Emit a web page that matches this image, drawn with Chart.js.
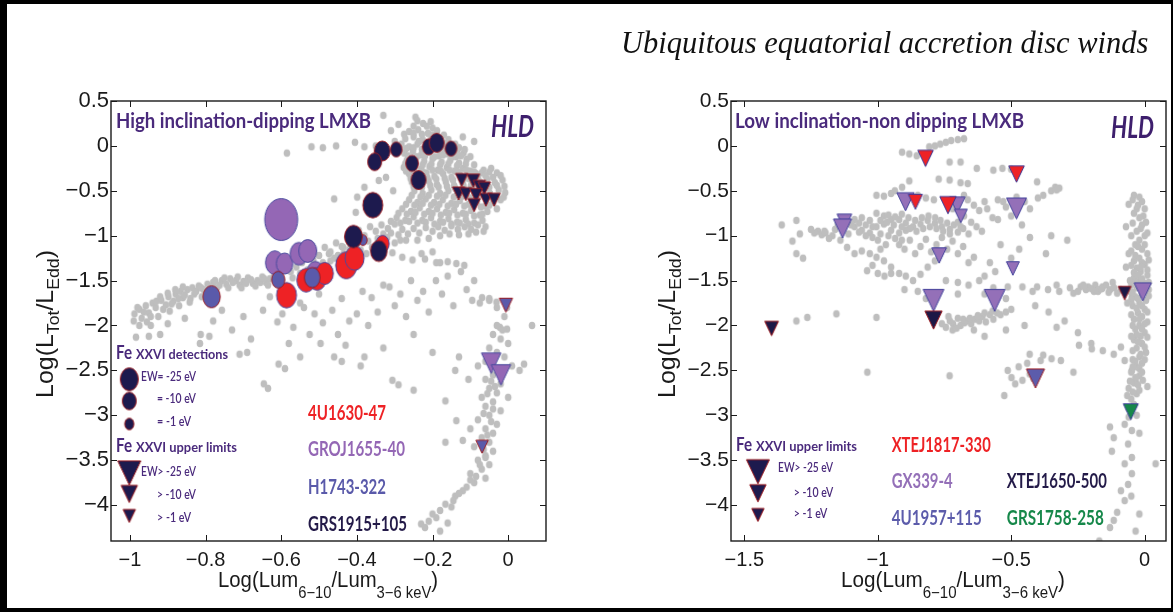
<!DOCTYPE html>
<html><head><meta charset="utf-8">
<script src="https://cdn.jsdelivr.net/npm/chart.js@4.4.0/dist/chart.umd.min.js"></script>
<style>
html,body{margin:0;padding:0;background:#fff;width:1173px;height:612px;overflow:hidden;position:relative}
canvas{position:absolute;top:0}
#c1{left:0}
#c2{left:600px}
.band{position:absolute;background:#000}
#title{position:absolute;left:621px;top:26px;font-family:'Liberation Serif','DejaVu Serif',serif;font-style:italic;font-size:32px;line-height:32px;white-space:nowrap;transform-origin:0 0;color:#111}
</style></head><body>
<canvas id="c1" width="600" height="612"></canvas>
<canvas id="c2" width="573" height="612"></canvas>
<div id="title">Ubiquitous equatorial accretion disc winds</div>
<div class="band" style="left:0;top:0;width:1173px;height:4px"></div>
<div class="band" style="left:0;top:0;width:7px;height:612px"></div>
<div class="band" style="left:0;top:608px;width:1173px;height:4px"></div>
<div class="band" style="left:1171px;top:0;width:2px;height:612px"></div>
<script>
// ---------------- DATA ----------------
const leftXTicks = {min:-1.05, max:0.1, step:0.2};
const rightXTicks = {min:-1.55, max:0.08, step:0.5};
const yTicks = {min:-4.4, max:0.5, step:0.5};

// Left panel: high inclination dipping LMXB. Triples are [x, y, |EW| (eV)]
const gro1655Det = [[-0.6,-0.82,140],[-0.617,-1.30,28],[-0.591,-1.31,19],[-0.553,-1.20,24],[-0.53,-1.17,25],[-0.51,-1.40,17]];
const u1630Det = [[-0.586,-1.663,35],[-0.505,-1.48,25],[-0.534,-1.496,28],[-0.485,-1.42,22],[-0.428,-1.33,42],[-0.406,-1.25,30],[-0.332,-1.09,8]];
const h1743Det = [[-0.784,-1.68,22],[-0.608,-1.49,8],[-0.518,-1.466,16],[-0.384,-1.05,0.4]];
const grs1915Det = [[-0.333,-0.057,16],[-0.296,-0.04,4.5],[-0.353,-0.177,10],[-0.254,-0.195,6.7],[-0.237,-0.38,13],[-0.21,-0.01,6.7],[-0.189,0.035,13],[-0.151,-0.03,4.5],[-0.358,-0.66,35],[-0.409,-1.01,24],[-0.342,-1.17,19]];
const gro1655Lim = [[-0.045,-2.42,17],[-0.019,-2.55,17]];
const h1743Lim = [[-0.006,-1.774,3],[-0.069,-3.35,1]];
const grs1915Lim = [[-0.123,-0.38,1],[-0.092,-0.389,2],[-0.076,-0.455,1],[-0.063,-0.474,1],[-0.131,-0.53,1],[-0.112,-0.537,1],[-0.085,-0.55,2],[-0.09,-0.66,1],[-0.059,-0.6,1],[-0.037,-0.6,1]];

const leftGray = [
[-0.33,0.34],[-0.245,0.32],[-0.31,0.17],[-0.275,0.13],[-0.52,-0.01],[-0.49,-0.02],[-0.455,0.0],[-0.405,0.04],[-0.38,-0.01],[-0.585,-0.08],[-0.29,0.24],[-0.205,0.27],[-0.12,0.1],[-0.09,0.05],[-0.35,0.0],[-0.3,0.05],
[-0.46,-0.59],[-0.399,-0.57],[-0.38,-0.46],[-0.323,-0.35],[-0.403,-0.74],[-0.342,-0.385],[-0.304,-0.5],[-0.474,-1.2],[-0.436,-1.13],
[-0.229,-1.2],[-0.2,-1.18],[-0.18,-1.3],[-0.069,-1.69],[-0.05,-1.72],[-0.031,-1.74],[-0.003,-1.8],[-0.022,-2.02],[-0.003,-2.04],
[-0.25,0.22],[-0.225,0.25],[-0.2,0.2],[-0.262,0.16],[-0.238,0.18],[-0.212,0.14],[-0.188,0.17],[-0.17,0.12],
[-0.272,0.08],[-0.25,0.1],[-0.226,0.07],[-0.203,0.09],[-0.18,0.05],[-0.158,0.07],[-0.14,0.02],
[-0.282,0.02],[-0.262,-0.01],[-0.24,0.02],[-0.216,-0.02],[-0.193,0.0],[-0.168,-0.03],[-0.15,-0.06],[-0.13,-0.02],
[-0.275,-0.08],[-0.252,-0.06],[-0.23,-0.1],[-0.207,-0.07],[-0.183,-0.11],[-0.16,-0.09],[-0.138,-0.12],[-0.118,-0.08],
[-0.268,-0.16],[-0.245,-0.14],[-0.222,-0.17],[-0.2,-0.14],[-0.176,-0.18],[-0.153,-0.16],[-0.13,-0.19],[-0.11,-0.15],
[-0.276,-0.24],[-0.254,-0.22],[-0.23,-0.26],[-0.208,-0.23],[-0.186,-0.27],[-0.162,-0.24],[-0.142,-0.28],[-0.12,-0.25],[-0.1,-0.28],
[-0.262,-0.31],[-0.24,-0.34],[-0.216,-0.3],[-0.195,-0.34],[-0.172,-0.31],[-0.15,-0.35],[-0.128,-0.32],[-0.106,-0.36],[-0.085,-0.31],[-0.065,-0.27],[-0.045,-0.25],[-0.03,-0.3],
[-0.255,-0.4],[-0.232,-0.43],[-0.21,-0.39],[-0.188,-0.43],[-0.165,-0.4],[-0.143,-0.44],[-0.12,-0.41],[-0.098,-0.44],[-0.075,-0.4],[-0.055,-0.37],[-0.035,-0.41],[-0.015,-0.38],
[-0.248,-0.5],[-0.226,-0.53],[-0.203,-0.49],[-0.18,-0.53],[-0.158,-0.5],[-0.135,-0.54],[-0.113,-0.51],[-0.09,-0.55],[-0.068,-0.5],[-0.048,-0.53],[-0.025,-0.49],[-0.008,-0.52],
[-0.262,-0.6],[-0.24,-0.63],[-0.218,-0.59],[-0.196,-0.63],[-0.173,-0.6],[-0.15,-0.64],[-0.128,-0.61],[-0.105,-0.65],[-0.083,-0.62],[-0.06,-0.67],[-0.04,-0.63],[-0.02,-0.6],
[-0.28,-0.7],[-0.257,-0.73],[-0.234,-0.69],[-0.21,-0.73],[-0.188,-0.7],[-0.165,-0.74],[-0.143,-0.71],[-0.12,-0.75],[-0.098,-0.72],[-0.075,-0.77],[-0.055,-0.73],
[-0.295,-0.8],[-0.272,-0.83],[-0.25,-0.79],[-0.227,-0.83],[-0.204,-0.8],[-0.18,-0.84],[-0.158,-0.81],[-0.135,-0.85],[-0.112,-0.82],[-0.09,-0.86],[-0.068,-0.83],
[-0.24,0.28],[-0.215,0.22],[-0.25,0.14],[-0.2,0.12],[-0.228,0.13],[-0.236,0.05],[-0.19,0.07],[-0.163,0.03],
[-0.27,-0.03],[-0.25,-0.02],[-0.228,-0.04],[-0.205,-0.03],[-0.18,-0.05],[-0.158,-0.02],[-0.135,-0.05],[-0.115,-0.04],
[-0.265,-0.11],[-0.242,-0.12],[-0.22,-0.11],[-0.195,-0.12],[-0.172,-0.1],[-0.148,-0.12],[-0.125,-0.11],[-0.1,-0.12],
[-0.272,-0.2],[-0.25,-0.19],[-0.226,-0.21],[-0.203,-0.2],[-0.18,-0.21],[-0.158,-0.2],[-0.135,-0.22],[-0.112,-0.2],[-0.09,-0.21],
[-0.27,-0.28],[-0.248,-0.27],[-0.226,-0.29],[-0.2,-0.27],[-0.178,-0.28],[-0.155,-0.27],[-0.132,-0.29],[-0.11,-0.27],[-0.09,-0.29],[-0.07,-0.3],[-0.05,-0.29],
[-0.258,-0.36],[-0.236,-0.37],[-0.214,-0.35],[-0.19,-0.37],[-0.168,-0.36],[-0.146,-0.38],[-0.124,-0.36],[-0.1,-0.37],[-0.08,-0.35],[-0.06,-0.33],[-0.04,-0.35],[-0.02,-0.33],
[-0.25,-0.45],[-0.228,-0.46],[-0.206,-0.44],[-0.184,-0.46],[-0.162,-0.45],[-0.14,-0.47],[-0.118,-0.45],[-0.095,-0.47],[-0.072,-0.45],[-0.05,-0.46],[-0.03,-0.44],[-0.01,-0.45],
[-0.255,-0.55],[-0.232,-0.57],[-0.21,-0.55],[-0.188,-0.56],[-0.166,-0.55],[-0.144,-0.57],[-0.122,-0.56],[-0.1,-0.58],[-0.078,-0.56],[-0.055,-0.58],[-0.033,-0.56],[-0.012,-0.57],
[-0.27,-0.65],[-0.248,-0.66],[-0.226,-0.64],[-0.204,-0.66],[-0.182,-0.65],[-0.16,-0.67],[-0.138,-0.65],[-0.116,-0.67],[-0.094,-0.66],[-0.072,-0.68],[-0.05,-0.66],[-0.03,-0.7],
[-0.29,-0.75],[-0.268,-0.76],[-0.245,-0.74],[-0.222,-0.76],[-0.2,-0.75],[-0.178,-0.77],[-0.156,-0.75],[-0.134,-0.77],[-0.112,-0.76],[-0.09,-0.78],[-0.068,-0.76],
[-0.31,-0.84],[-0.285,-0.86],[-0.262,-0.84],[-0.24,-0.86],[-0.218,-0.85],[-0.195,-0.87],[-0.172,-0.85],[-0.15,-0.87],[-0.128,-0.86],[-0.105,-0.87],
[-0.3,-0.87],[-0.318,-0.92],[-0.335,-0.88],[-0.35,-0.95],[-0.365,-0.9],[-0.38,-1.0],[-0.395,-0.94],[-0.41,-1.08],[-0.425,-1.02],[-0.44,-1.12],[-0.455,-1.08],[-0.47,-1.18],[-0.485,-1.13],[-0.5,-1.22],[-0.515,-1.27],[-0.53,-1.23],[-0.545,-1.3],[-0.56,-1.35],[-0.575,-1.4],[-0.59,-1.38],[-0.605,-1.43],[-0.62,-1.46],
[-0.31,-0.97],[-0.33,-0.98],[-0.345,-1.03],[-0.37,-1.06],[-0.4,-1.1],[-0.42,-1.15],[-0.435,-1.2],[-0.46,-1.25],[-0.49,-1.3],[-0.51,-1.35],[-0.53,-1.38],[-0.55,-1.42],[-0.57,-1.47],[-0.6,-1.5],
[-0.28,-0.93],[-0.265,-0.98],[-0.25,-0.92],[-0.235,-0.97],[-0.218,-0.91],[-0.2,-0.95],[-0.185,-0.9],[-0.168,-0.94],[-0.15,-0.89],[-0.133,-0.93],[-0.115,-0.9],[-0.098,-0.93],[-0.08,-0.88],[-0.06,-0.9],
[-0.29,-0.99],[-0.27,-1.05],[-0.24,-1.05],[-0.21,-1.03],[-0.18,-1.0],[-0.155,-0.98],[-0.13,-0.99],[-0.105,-0.98],[-0.085,-0.96],[-0.065,-0.95],
[-0.32,-1.02],[-0.3,-1.08],[-0.285,-1.05],[-0.36,-1.13],[-0.375,-1.2],[-0.39,-1.16],[-0.45,-1.22],[-0.47,-1.28],
[-0.306,-1.19],[-0.28,-1.24],[-0.253,-1.27],[-0.22,-1.26],[-0.19,-1.3],[-0.16,-1.29],[-0.137,-1.31],[-0.116,-1.33],[-0.09,-1.5],
[-0.988,-1.87],[-0.975,-1.82],[-0.969,-1.92],[-0.958,-1.78],[-0.95,-1.86],[-0.94,-1.75],[-0.932,-1.8],[-0.917,-1.72],[-0.905,-1.77],[-0.898,-1.68],[-0.885,-1.73],[-0.879,-1.65],[-0.866,-1.62],[-0.86,-1.69],[-0.848,-1.6],[-0.835,-1.58],[-0.83,-1.65],[-0.818,-1.56],[-0.805,-1.6],[-0.795,-1.54],[-0.78,-1.52],[-0.77,-1.58],[-0.757,-1.5],[-0.745,-1.54],[-0.735,-1.48],[-0.72,-1.5],[-0.71,-1.55],[-0.7,-1.51],[-0.688,-1.47],[-0.675,-1.53],[-0.663,-1.5],[-0.65,-1.46],[-0.64,-1.52],[-0.63,-1.48],[-0.955,-1.96],[-0.925,-1.9],[-0.895,-1.84],[-0.87,-1.78],[-0.84,-1.7],[-0.81,-1.68],
[-0.98,-1.8],[-0.963,-1.85],[-0.945,-1.9],[-0.93,-1.73],[-0.912,-1.82],[-0.89,-1.76],[-0.872,-1.7],[-0.855,-1.66],[-0.842,-1.74],[-0.825,-1.62],[-0.812,-1.58],[-0.8,-1.65],[-0.787,-1.57],[-0.775,-1.5],[-0.763,-1.55],[-0.75,-1.47],[-0.74,-1.58],[-0.728,-1.52],[-0.715,-1.46],[-0.705,-1.58],[-0.693,-1.53],[-0.68,-1.49],[-0.668,-1.56],[-0.655,-1.52],[-0.645,-1.48],[-0.635,-1.55],[-0.92,-1.68],[-0.9,-1.64],[-0.88,-1.6],[-0.86,-1.57],[-0.99,-1.95],[-0.975,-2.0],
[-0.945,-2.0],[-0.9,-1.98],[-0.855,-1.92],[-0.813,-2.1],[-0.78,-1.95],[-0.757,-1.83],[-0.73,-2.05],[-0.7,-1.9],[-0.68,-2.15],[-0.648,-1.83],[-0.63,-1.68],[-0.61,-1.96],[-0.597,-1.87],[-0.58,-2.2],[-0.568,-2.02],[-0.55,-1.75],[-0.54,-1.8],[-0.525,-2.1],[-0.512,-1.87],[-0.5,-1.65],[-0.49,-1.97],[-0.465,-1.83],[-0.45,-2.1],[-0.44,-1.7],[-0.42,-1.95],[-0.4,-1.87],[-0.385,-1.62],[-0.37,-2.0],[-0.361,-1.69],[-0.345,-1.85],[-0.33,-1.55],[-0.314,-1.57],[-0.3,-1.78],[-0.285,-1.65],[-0.27,-1.9],[-0.257,-1.5],[-0.24,-1.72],[-0.225,-1.62],[-0.21,-1.85],[-0.191,-1.5],[-0.175,-1.65],[-0.16,-1.45],[-0.145,-1.78],[-0.125,-1.4],[-0.11,-1.6],[-0.095,-1.72],[-0.075,-1.75],[-0.05,-1.7],[-0.03,-2.0],[-0.015,-2.05],[0.063,-2.0],[-0.2,-2.3],[-0.25,-2.1],[-0.33,-2.25],[-0.38,-2.35],[-0.44,-2.4],
[-0.984,-2.13],[-0.95,-2.12],[-0.92,-2.1],[-0.815,-2.2],[-0.79,-2.12],[-0.71,-2.32],[-0.69,-2.3],[-0.646,-2.65],[-0.635,-2.7],[-0.607,-2.43],[-0.59,-2.48],[-0.55,-2.35],[-0.496,-2.2],[-0.46,-2.35],[-0.43,-2.22],[-0.39,-2.45],[-0.306,-2.61],[-0.29,-2.66],[-0.25,-2.72],[-0.166,-2.84],[-0.14,-2.5],[-0.13,-2.35],[-0.105,-2.6],[-0.08,-2.45],[0.042,-2.43],[0.03,-2.5],[-0.137,-3.06],[-0.166,-3.3],[-0.12,-3.28],[-0.1,-3.15],[-0.06,-3.47],
[-0.03,-1.8],[-0.01,-1.9],[-0.04,-2.1],[-0.02,-2.15],[0.0,-2.2],[-0.05,-2.25],[-0.03,-2.3],[-0.01,-2.35],[-0.06,-2.4],[0.01,-2.45],[-0.04,-2.55],[-0.06,-2.6],[-0.02,-2.65],[-0.05,-2.7],[-0.03,-2.75],[0.0,-2.8],[-0.07,-2.8],[-0.04,-2.85],[-0.06,-2.9],[-0.02,-2.95],[-0.05,-3.0],[-0.08,-3.05],[-0.03,-3.1],[-0.06,-3.15],[-0.04,-3.2],[-0.07,-3.25],[-0.05,-3.3],[-0.09,-3.35],[-0.04,-3.4],[-0.06,-3.45],[-0.08,-3.5],[-0.05,-3.55],[-0.07,-3.6],[-0.1,-3.65],[-0.06,-3.7],[-0.09,-3.75],[-0.11,-3.8],[-0.12,-3.84],[-0.14,-3.9],[-0.166,-3.99],[-0.15,-4.02],[-0.18,-4.06],[-0.19,-4.14],[-0.2,-4.1],[-0.21,-4.18],[-0.23,-4.21],[-0.18,-4.29],[-0.22,-4.25],[-0.16,-4.2],
[-0.045,-2.62],[-0.035,-2.68],[-0.055,-2.76],[-0.04,-2.93],[-0.065,-2.98],[-0.045,-3.07],[-0.055,-3.22],[-0.065,-3.38],[-0.075,-3.55],[-0.085,-3.68],[-0.1,-3.72],[-0.13,-3.87],[-0.145,-3.95]
];

// Right panel: low inclination non dipping LMXB (upper limits only)
const xte1817Lim = [[-0.821,-0.139,8],[-0.48,-0.314,8],[-0.859,-0.622,5],[-0.737,-0.66,10]];
const gx339Lim = [[-0.896,-0.622,12],[-0.702,-0.66,8],[-0.689,-0.78,2],[-0.48,-0.697,18],[-1.125,-0.845,6],[-1.132,-0.92,14],[-0.77,-1.22,6],[-0.494,-1.365,2],[-0.791,-1.72,20],[-0.562,-1.72,20],[-0.007,-1.626,12]];
const u1957Lim = [[-0.409,-2.59,14]];
const grs1758Lim = [[-0.052,-2.96,7]];
const xte1650Lim = [[-1.398,-2.034,4],[-0.791,-1.94,12],[-0.075,-1.64,2]];

const rightGray = [
[-0.909,-0.07],[-0.882,-0.09],[-0.854,-0.11],[-0.807,-0.01],[-0.786,0.0],[-0.766,0.02],[-0.745,0.04],[-0.725,0.06],[-0.7,0.07],[-0.677,0.08],[-0.731,-0.18],[-0.69,-0.18],[-0.629,-0.25],[-0.567,-0.27],[-0.533,-0.25],[-0.5,-0.26],[-0.403,-0.4],[-0.335,-0.46],[-0.32,-0.47],[-0.772,-0.37],[-0.731,-0.38],[-0.69,-0.41],[-0.663,-0.42],[-0.882,-0.39],[-0.909,-0.46],[-0.936,-0.5],[-0.95,-0.53],[-1.005,-0.55],[-0.977,-0.56],[-0.85,-0.55],[-0.82,-0.58],[-0.79,-0.6],
[-1.36,-0.88],[-1.305,-0.83],[-1.292,-0.98],[-1.32,-1.06],[-1.305,-1.2],[-1.28,-1.25],[-1.224,-0.95],[-1.238,-0.97],[-1.21,-0.99],[-1.196,-0.97],[-1.17,-1.0],[-1.183,-1.03],[-1.15,-0.88],[-1.12,-0.85],[-1.087,-0.82],[-1.06,-0.8],[-1.03,-0.83],[-1.005,-0.75],[-0.977,-0.78],[-0.95,-0.82],[-0.92,-0.82],[-0.895,-0.86],[-1.087,-0.9],[-1.06,-0.94],[-1.03,-0.97],[-1.005,-0.9],[-0.977,-0.87],[-0.95,-0.94],[-0.92,-0.97],[-0.895,-0.94],[-0.868,-0.9],[-0.84,-0.87],[-0.813,-0.83],[-0.786,-0.86],[-0.76,-0.9],[-0.73,-0.93],[-0.7,-0.96],[-0.68,-0.92],[-1.115,-1.13],[-1.087,-1.2],[-1.06,-1.17],[-1.03,-1.2],[-1.005,-1.24],[-0.977,-1.28],[-0.95,-1.35],[-0.92,-1.42],[-0.895,-1.45],[-0.868,-1.5],[-0.84,-1.43],[-0.813,-1.35],[-0.786,-1.28],[-1.0,-1.42],[-0.975,-1.45],[-0.95,-1.42],[-1.04,-1.39],[-1.02,-1.33],[-0.92,-1.1],[-0.9,-1.15],[-0.88,-1.05],[-0.86,-1.2],[-0.84,-1.12],[-0.82,-1.04],[-0.8,-1.18],[-0.78,-1.1],[-0.76,-1.02],[-0.74,-1.15],[-0.72,-1.06],[-0.7,-1.2],[-0.68,-1.12],[-0.66,-1.3],[-0.64,-1.24],[-1.14,-1.05],[-1.11,-0.98],[-1.0,-1.05],[-0.97,-1.1],[-0.99,-1.15],
[-1.25,-0.93],[-1.2,-0.95],[-1.16,-0.93],[-1.13,-0.9],[-1.1,-0.88],[-1.07,-0.86],[-1.045,-0.88],[-1.02,-0.9],[-0.99,-0.83],[-0.965,-0.85],[-0.94,-0.88],[-0.91,-0.9],[-0.88,-0.92],[-0.855,-0.95],[-0.83,-0.92],[-0.805,-0.9],[-0.78,-0.92],[-0.755,-0.95],[-0.73,-0.98],[-1.07,-0.96],[-1.045,-1.0],[-1.02,-1.02],[-0.99,-0.98],[-0.96,-1.0],[-0.935,-1.03],[-0.91,-1.05],[-0.96,-0.77],[-0.935,-0.79],[-0.91,-0.76],[-0.885,-0.8],[-0.86,-0.83],[-0.835,-0.8],[-0.81,-0.78],[-0.785,-0.8],[-0.765,-0.83],[-0.74,-0.86],[-0.715,-0.88],[-0.69,-0.9],
[-0.677,-0.55],[-0.663,-0.6],[-0.64,-0.66],[-0.62,-0.72],[-0.677,-0.78],[-0.65,-0.85],[-0.63,-0.9],[-0.61,-0.95],[-0.6,-0.62],[-0.59,-0.7],[-0.57,-0.8],[-0.55,-0.6],[-0.7,-0.65],[-0.72,-0.7],[-0.66,-0.98],[-0.7,-0.85],
[-0.53,-0.62],[-0.52,-0.68],[-0.48,-0.57],[-0.45,-0.62],[-0.43,-0.7],[-0.4,-0.58],[-0.38,-0.55],[-0.35,-0.5],[-0.33,-0.49],[-0.55,-0.82],[-0.5,-0.78],[-0.46,-0.88],
[-0.43,-1.02],[-0.35,-1.0],[-0.29,-1.05],[-0.37,-1.2],[-0.47,-1.15],[-0.5,-1.25],[-0.54,-1.1],[-0.58,-1.3],[-0.56,-1.4],[-0.6,-1.45],
[-0.745,-1.5],[-0.7,-1.52],[-0.66,-1.55],[-0.62,-1.5],[-0.567,-1.58],[-0.513,-1.57],[-0.458,-1.57],[-0.403,-1.57],[-0.362,-1.6],[-0.32,-1.62],[-0.267,-1.64],[-0.24,-1.57],[-0.212,-1.57],[-0.185,-1.55],[-0.158,-1.57],[-0.13,-1.6],[-0.103,-1.64],[-0.075,-1.62],[-0.048,-1.68],[-0.22,-1.6],[-0.19,-1.62],[-0.17,-1.6],[-0.145,-1.55],[-0.12,-1.52],[-0.28,-1.58],[-0.33,-1.55],[-0.42,-1.62],[-0.6,-1.65],[-0.7,-1.65],[-0.52,-1.7],
[-0.2,-1.59],[-0.175,-1.62],[-0.16,-1.59],[-0.135,-1.63],[-0.115,-1.58],[-0.09,-1.6],[-0.25,-1.62],[-0.23,-1.55],
[-0.745,-2.02],[-0.718,-1.98],[-0.69,-2.0],[-0.663,-1.95],[-0.636,-1.93],[-0.608,-1.9],[-0.58,-1.88],[-0.567,-1.93],[-0.553,-1.86],[-0.54,-1.88],[-0.73,-1.95],[-0.7,-1.92],[-0.675,-1.97],[-0.65,-1.98],[-0.62,-1.95],[-0.595,-1.96],[-0.76,-1.98],[-0.72,-2.05],[-0.64,-2.05],[-0.52,-1.85],[-0.5,-1.82],
[-0.735,-1.9],[-0.705,-2.03],[-0.68,-1.93],[-0.655,-1.92],[-0.625,-1.89],[-0.6,-1.86],[-0.57,-1.84],
[-1.305,-1.95],[-1.264,-1.91],[-1.155,-1.87],[-1.005,-1.91],[-0.9,-1.6],[-0.85,-1.62],[-0.82,-1.7],[-0.6,-2.12],[-0.52,-2.05],[-0.45,-2.0],[-0.41,-1.78],[-0.36,-1.85],[-0.3,-1.95],[-0.33,-2.02],[-0.25,-2.08],[-0.2,-2.2],
[-0.431,-2.32],[-0.39,-2.39],[-0.349,-2.37],[-0.314,-2.39],[-0.472,-2.46],[-0.513,-2.5],[-0.499,-2.58],[-0.458,-2.61],[-0.417,-2.59],[-0.431,-2.54],[-0.526,-2.78],[-0.485,-2.65],[-0.267,-2.52],[-1.039,-2.52],[-0.731,-2.56],[-0.44,-2.42],[-0.38,-2.33],
[-0.246,-2.22],[-0.198,-2.26],[-0.157,-2.28],[-0.116,-2.32],[-0.089,-2.24],[-0.075,-2.39],[-0.048,-2.5],[-0.034,-2.61],[-0.007,-2.61],
[-0.04,-0.55],[-0.02,-0.57],[-0.01,-0.62],[-0.03,-0.7],[-0.005,-0.78],[0.005,-0.85],[-0.015,-0.92],[0.0,-1.0],[-0.02,-1.05],[-0.035,-1.1],[-0.01,-1.15],[0.01,-1.2],[-0.02,-1.25],[-0.04,-1.28],[0.0,-1.32],[-0.03,-1.36],[-0.015,-1.4],[0.01,-1.44],[-0.04,-1.47],[-0.02,-1.5],[0.0,-1.53],[-0.05,-1.55],[-0.03,-1.58],[0.015,-1.6],[-0.01,-1.65],[-0.035,-1.68],[0.005,-1.72],[-0.02,-1.75],[-0.045,-1.78],[0.0,-1.82],[-0.025,-1.86],[-0.01,-1.9],[-0.04,-1.93],[0.01,-1.96],[-0.02,-2.0],[-0.035,-2.04],[0.0,-2.08],[-0.015,-2.12],[-0.04,-2.16],[-0.01,-2.2],[-0.03,-2.25],[0.005,-2.3],[-0.02,-2.35],[-0.045,-2.38],[-0.01,-2.42],[-0.03,-2.46],[-0.05,-2.52],[-0.02,-2.56],[-0.04,-2.64],[-0.06,-2.7],[-0.03,-2.76],[-0.05,-2.82],[-0.02,-2.72],[0.01,-2.68],
[-0.045,-0.6],[-0.025,-0.66],[0.0,-0.7],[-0.04,-0.75],[-0.02,-0.8],[-0.045,-0.86],[-0.01,-0.88],[-0.03,-0.95],[0.01,-0.97],[-0.05,-1.0],[-0.025,-1.12],[0.0,-1.1],[-0.05,-1.17],[-0.035,-1.22],[0.015,-1.27],[-0.01,-1.3],[-0.05,-1.33],[-0.015,-1.35],[0.01,-1.38],[-0.04,-1.41],[-0.025,-1.44],[-0.01,-1.48],[-0.055,-1.5],[0.015,-1.52],[-0.035,-1.53],[-0.015,-1.57],[0.0,-1.62],[-0.045,-1.63],[-0.025,-1.7],[0.015,-1.67],[-0.05,-1.72],[-0.01,-1.78],[-0.03,-1.81],[0.01,-1.85],[-0.05,-1.88],[-0.02,-1.93],[0.0,-1.98],[-0.045,-2.0],[-0.01,-2.04],[-0.03,-2.1],[0.01,-2.13],[-0.05,-2.12],[-0.025,-2.18],[0.0,-2.24],[-0.045,-2.28],[-0.015,-2.32],[-0.035,-2.4],[0.0,-2.38],[-0.02,-2.48],[-0.045,-2.46],[-0.01,-2.52],[-0.035,-2.58],[-0.055,-2.62],[-0.025,-2.66],[-0.045,-2.74],[-0.065,-2.78],[-0.04,-2.88],[-0.06,-2.92],
[-0.06,-0.65],[-0.07,-0.9],[-0.06,-1.2],[-0.07,-1.35],[-0.055,-1.62],[-0.065,-1.75],
[-0.13,-3.13],[-0.116,-3.25],[-0.062,-3.32],[-0.048,-3.47],[-0.075,-3.54],[-0.048,-3.65],[-0.062,-3.77],[-0.089,-3.84],[-0.075,-3.95],[-0.103,-4.08],[-0.116,-4.17],[-0.13,-4.25],[-0.17,-4.4],[-0.034,-4.29],[0.041,-3.54],[-0.02,-3.2],[-0.048,-3.17],[-0.075,-3.1],[-0.123,-3.4],[-0.03,-3.0],[-0.06,-3.02],[-0.05,-3.9],[-0.02,-4.1]
];

// --------------- RENDERING HELPERS ---------------
const cache = {};
function marker(shape, fill, stroke, w, h){
  const key = [shape,fill,stroke,w.toFixed(1),h.toFixed(1)].join('|');
  if (cache[key]) return cache[key];
  const c = document.createElement('canvas');
  c.width = Math.ceil(w + 3); c.height = Math.ceil(h + 3);
  const g = c.getContext('2d');
  const cx = c.width/2, cy = c.height/2;
  g.beginPath();
  if (shape === 'circle') g.ellipse(cx, cy, w/2, h/2, 0, 0, Math.PI*2);
  else { g.moveTo(cx-w/2, cy-h/2); g.lineTo(cx+w/2, cy-h/2); g.lineTo(cx, cy+h/2); g.closePath(); }
  g.fillStyle = fill; g.fill();
  if (stroke){ g.lineWidth = 1; g.strokeStyle = stroke; g.stroke(); }
  cache[key] = c; return c;
}
function circSize(ew){ const w = 7 + 2.2*Math.sqrt(ew); return [w, 1.27*w]; }
function triSize(ew){ const w = 12 + 0.44*ew; return [w, 1.05*w]; }

const NAVY='#1d1a4e', DRED='#9b1c22', RED='#ee2225', PURP='#9467b5', BLUE='#5a5aaa', EDGEB='#4a4a9e', GREEN='#16884a';

function series(arr, shape, fill, stroke, order){
  return {
    data: arr.map(p => ({x:p[0], y:p[1], ew:p[2]})),
    order,
    pointRadius: 6,
    pointStyle: (c) => {
      const r = c.raw; if (!r) return 'circle';
      const [w,h] = shape==='circle' ? circSize(r.ew) : triSize(r.ew);
      return marker(shape, fill, stroke, w, h);
    }
  };
}
function graySeries(arr){
  const img = marker('circle', '#bebebe', null, 6.6, 7.6);
  return { data: arr.map(p=>({x:p[0], y:p[1]})), order: 20, pointRadius: 3, pointStyle: img };
}

function fmt(v){ const r = Math.round(v*10)/10; return (r===0?'0':String(r)).replace('-','\u2212'); }

function txt(ctx, s, x, y, o){
  ctx.save();
  ctx.font = `${o.style||'normal'} ${o.weight||'bold'} ${o.size||14}px ${o.family||'Lato'}`;
  ctx.fillStyle = o.color||'#000'; ctx.textBaseline='alphabetic'; ctx.textAlign='left';
  const w = ctx.measureText(s).width;
  const sx = o.width ? o.width/w : 1;
  ctx.translate(x, y); ctx.scale(sx, 1); ctx.fillText(s, 0, 0);
  ctx.restore();
}
function rich(ctx, segs, cx, y, o){
  const fam = o.family || "'Liberation Sans'";
  ctx.save();
  ctx.fillStyle = o.color || '#1a1a1a'; ctx.textBaseline='alphabetic'; ctx.textAlign='left';
  let total = 0; const ws = [];
  segs.forEach(([s,sub])=>{ ctx.font = `${sub?o.sub:o.main}px ${fam}`; const w = ctx.measureText(s).width; ws.push(w); total += w; });
  const sx = o.width ? o.width/total : 1;
  ctx.translate(cx, y);
  if (o.rotate) ctx.rotate(-Math.PI/2);
  ctx.scale(sx, 1);
  let x = -total/2;
  segs.forEach(([s,sub],i)=>{ ctx.font = `${sub?o.sub:o.main}px ${fam}`; ctx.fillText(s, x, sub?o.drop:0); x += ws[i]; });
  ctx.restore();
}

const xTitle = [['Log(Lum',0],['6\u221210',1],['/Lum',0],['3\u22126 keV',1],[')',0]];
const yTitle = [['Log(L',0],['Tot',1],['/L',0],['Edd',1],[')',0]];

const annotators = {};

const framePlugin = {
  id: 'frame',
  afterDraw(chart){
    const ctx = chart.ctx, a = chart.chartArea, scales = chart.scales;
    ctx.save();
    ctx.strokeStyle = '#1a1a1a';
    ctx.lineWidth = 1;
    const L = 6;
    ctx.beginPath();
    scales.x.ticks.forEach(t=>{ const p = Math.round(scales.x.getPixelForValue(t.value))+0.5; ctx.moveTo(p,a.bottom); ctx.lineTo(p,a.bottom-L); ctx.moveTo(p,a.top); ctx.lineTo(p,a.top+L); });
    scales.y.ticks.forEach(t=>{ const p = Math.round(scales.y.getPixelForValue(t.value))+0.5; ctx.moveTo(a.left,p); ctx.lineTo(a.left+L,p); ctx.moveTo(a.right,p); ctx.lineTo(a.right-L,p); });
    ctx.stroke();
    ctx.lineWidth = 1.4;
    ctx.strokeRect(a.left, a.top, a.right-a.left, a.bottom-a.top);
    ctx.restore();
    const fn = annotators[chart.canvas.id];
    if (fn) fn(ctx);
  }
};

function makeChart(id, datasets, xr, layout, yFont, xFont){
  return new Chart(document.getElementById(id), {
    type: 'scatter',
    data: { datasets },
    options: {
      responsive: false, animation: false, devicePixelRatio: 1, events: [],
      layout: { padding: layout },
      plugins: { legend:{display:false}, tooltip:{enabled:false} },
      scales: {
        x: { type:'linear', min:xr.min, max:xr.max,
             ticks:{ stepSize:xr.step, includeBounds:false, autoSkip:false, maxRotation:0, padding:7, color:'#1a1a1a',
                     font:{family:"'Liberation Sans'", size:xFont}, callback: fmt },
             grid:{ display:false, drawTicks:false }, border:{ display:false },
             afterFit: s => { s.height = 40; } },
        y: { type:'linear', min:yTicks.min, max:yTicks.max,
             ticks:{ stepSize:yTicks.step, includeBounds:false, autoSkip:false, padding:2, color:'#1a1a1a',
                     font:{family:"'Liberation Sans'", size:yFont}, callback: fmt },
             grid:{ display:false, drawTicks:false }, border:{ display:false },
             afterFit: s => { s.width = 70; } }
      }
    },
    plugins: [framePlugin]
  });
}

const HEAD='#4a2a7c', HLDC='#3e1f6d';

annotators.c1 = (ctx)=>{
  txt(ctx,'High inclination-dipping LMXB',116,128,{size:21,width:255,color:HEAD});
  txt(ctx,'HLD',491,137,{size:30,style:'italic',width:43,color:HLDC});
  txt(ctx,'Fe',116,359,{size:18,width:16,color:HEAD});
  txt(ctx,'XXVI detections',136,359,{size:14,width:92,color:HEAD});
  txt(ctx,'EW= -25 eV',141,381,{size:14,width:55,color:HEAD,weight:'600'});
  txt(ctx,'= -10 eV',157,403,{size:14,width:39,color:HEAD,weight:'600'});
  txt(ctx,'= -1 eV',157,425.5,{size:14,width:34,color:HEAD,weight:'600'});
  txt(ctx,'Fe',116,451.7,{size:18,width:16,color:HEAD});
  txt(ctx,'XXVI upper limits',136,451.7,{size:14,width:101,color:HEAD});
  txt(ctx,'EW> -25 eV',141,475.5,{size:14,width:55,color:HEAD,weight:'600'});
  txt(ctx,'> -10 eV',157,499.3,{size:14,width:39,color:HEAD,weight:'600'});
  txt(ctx,'> -1 eV',157,521.7,{size:14,width:34,color:HEAD,weight:'600'});
  [[25,379.3],[10,401],[1,424]].forEach(([ew,y])=>{ const [w,h]=circSize(ew); const m=marker('circle',NAVY,DRED,w,h); ctx.drawImage(m,129.3-m.width/2,y-m.height/2); });
  [[25,473],[10,494],[1,516]].forEach(([ew,y])=>{ const [w,h]=triSize(ew); const m=marker('tri',NAVY,DRED,w,h); ctx.drawImage(m,129.3-m.width/2,y-m.height/2); });
  txt(ctx,'4U1630-47',308,420,{size:20,width:78,color:RED});
  txt(ctx,'GROJ1655-40',308,456,{size:20,width:97,color:PURP});
  txt(ctx,'H1743-322',308,494,{size:20,width:78,color:BLUE});
  txt(ctx,'GRS1915+105',308,531,{size:20,width:99,color:'#231a48'});
  rich(ctx, xTitle, 328, 587, {main:22, sub:16, drop:11, width:220});
  rich(ctx, yTitle, 53, 324, {main:24, sub:17, drop:6, width:148, rotate:true});
};
annotators.c2 = (ctx)=>{
  const ox = 600;
  txt(ctx,'Low inclination-non dipping LMXB',735-ox,128.3,{size:21,width:289,color:HEAD});
  txt(ctx,'HLD',1111-ox,138,{size:30,style:'italic',width:43,color:HLDC});
  txt(ctx,'Fe',736-ox,450.7,{size:18,width:16,color:HEAD});
  txt(ctx,'XXVI upper limits',756-ox,450.7,{size:14,width:101,color:HEAD});
  txt(ctx,'EW> -25 eV',778-ox,471.7,{size:13,width:55,color:HEAD,weight:'600'});
  txt(ctx,'> -10 eV',793.7-ox,496.7,{size:13,width:39.5,color:HEAD,weight:'600'});
  txt(ctx,'> -1 eV',793.7-ox,518.3,{size:13,width:33.6,color:HEAD,weight:'600'});
  [[25,471.7],[10,493.3],[1,515]].forEach(([ew,y])=>{ const [w,h]=triSize(ew); const m=marker('tri',NAVY,DRED,w,h); ctx.drawImage(m,757.9-ox-m.width/2,y-m.height/2); });
  txt(ctx,'XTEJ1817-330',891.7-ox,451.7,{size:20,width:99,color:RED});
  txt(ctx,'GX339-4',891.7-ox,488.3,{size:20,width:61,color:'#9470b8'});
  txt(ctx,'4U1957+115',891.7-ox,525,{size:20,width:90,color:'#5c5cab'});
  txt(ctx,'XTEJ1650-500',1006.8-ox,488.3,{size:20,width:100,color:'#231a48'});
  txt(ctx,'GRS1758-258',1006.8-ox,525,{size:20,width:97,color:GREEN});
  rich(ctx, xTitle, 953-ox, 587, {main:22, sub:16, drop:11, width:224});
  rich(ctx, yTitle, 675-ox, 324, {main:24, sub:17, drop:6, width:148, rotate:true});
};

makeChart('c1', [
  graySeries(leftGray),
  series(gro1655Det,'circle',PURP,EDGEB,8),
  series(gro1655Lim,'tri',PURP,EDGEB,8),
  series(u1630Det,'circle',RED,EDGEB,7),
  series(h1743Det,'circle',BLUE,DRED,6),
  series(h1743Lim,'tri',BLUE,DRED,6),
  series(grs1915Det,'circle',NAVY,DRED,5),
  series(grs1915Lim,'tri',NAVY,DRED,5)
], leftXTicks, {left:41, top:101, right:54, bottom:31}, 22, 20);

makeChart('c2', [
  graySeries(rightGray),
  series(gx339Lim,'tri','#9470b8','#40409a',8),
  series(xte1817Lim,'tri',RED,'#3a3a98',7),
  series(u1957Lim,'tri','#5c5cab',DRED,6),
  series(grs1758Lim,'tri',GREEN,'#3a3a98',6),
  series(xte1650Lim,'tri','#1c1846',DRED,5)
], rightXTicks, {left:61, top:101, right:5, bottom:31}, 21, 20);

const t = document.getElementById('title');
t.style.transform = `scaleX(${527 / t.offsetWidth})`;
</script>
</body></html>
